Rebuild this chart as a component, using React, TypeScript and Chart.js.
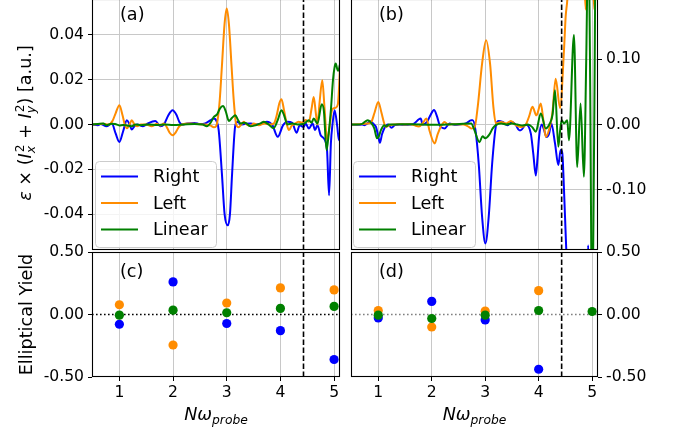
import React, { useEffect, useRef } from "react";
import { Chart, registerables } from "chart.js";
Chart.register(...registerables);

// ---------------- data ----------------
const SERIES = ["Right", "Left", "Linear"];
const COLORS = ["#0000ff", "#ff8c00", "#008000"];

const X_TICKS = [1, 2, 3, 4, 5];
const X_RANGE = [0.49, 5.11];
const CUTOFF_X = 4.43;

const A_Y_TICKS = [-0.04, -0.02, 0, 0.02, 0.04];
const A_Y_RANGE = [-0.056, 0.056];
const B_Y_TICKS = [-0.1, 0, 0.1];
const B_Y_RANGE = [-0.192, 0.192];
const CD_Y_TICKS = [-0.5, 0, 0.5];
const CD_Y_RANGE = [-0.5, 0.5];

// panel (a)
const A_RIGHT_X = [0.49, 0.6, 0.65, 0.76, 0.86, 0.93, 1.0, 1.07, 1.14, 1.19, 1.23, 1.28, 1.33, 1.44, 1.53, 1.67, 1.76, 1.83, 1.91, 1.99, 2.06, 2.12, 2.17, 2.26, 2.4, 2.5, 2.6, 2.7, 2.76, 2.81, 2.85, 2.91, 2.96, 3.02, 3.06, 3.1, 3.16, 3.21, 3.26, 3.35, 3.45, 3.55, 3.65, 3.75, 3.85, 3.95, 4.05, 4.13, 4.22, 4.3, 4.36, 4.43, 4.47, 4.53, 4.6, 4.645, 4.69, 4.75, 4.83, 4.87, 4.906, 4.94, 4.97, 5.01, 5.06, 5.09, 5.125];
const A_RIGHT_Y = [0, -0.0003, 0.0002, -0.0008, 0.0004, -0.004, -0.0078, -0.003, 0.0019, 0, -0.0022, -0.0008, 0, -0.0008, 0.0005, 0.0016, -0.0008, 0, 0.004, 0.0064, 0.0045, 0.001, 0, 0.0004, 0.0007, 0.0002, 0.0005, 0.0019, 0.0027, 0.0015, -0.0025, -0.0219, -0.04, -0.045, -0.04, -0.0219, -0.0003, 0.0012, 0, 0.0003, 0.0004, 0, 0.0003, 0.0012, -0.0003, -0.0055, -0.0003, 0.0012, 0.0007, -0.0037, -0.0003, -0.0011, 0.0004, -0.0018, 0.0004, -0.0025, -0.0003, -0.0048, -0.007, -0.012, -0.0316, -0.0085, 0, 0.0064, -0.0011, -0.007, -0.0011];
const A_LEFT_X = [0.49, 0.7, 0.8, 0.87, 0.93, 1.0, 1.06, 1.1, 1.14, 1.19, 1.23, 1.28, 1.33, 1.4, 1.5, 1.6, 1.7, 1.76, 1.83, 1.89, 1.94, 1.99, 2.05, 2.11, 2.17, 2.3, 2.45, 2.6, 2.7, 2.76, 2.8, 2.83, 2.87, 2.91, 2.96, 3.0, 3.04, 3.09, 3.13, 3.176, 3.22, 3.27, 3.32, 3.37, 3.45, 3.5, 3.6, 3.7, 3.8, 3.88, 3.93, 3.98, 4.02, 4.07, 4.12, 4.16, 4.21, 4.25, 4.34, 4.4, 4.47, 4.53, 4.58, 4.62, 4.66, 4.69, 4.73, 4.78, 4.82, 4.87, 4.91, 4.96, 5.0, 5.03, 5.07, 5.1, 5.125];
const A_LEFT_Y = [0, 0.0003, 0, 0.0015, 0.005, 0.0086, 0.004, 0, -0.0017, 0, 0.0019, 0, -0.0008, 0, 0, -0.0008, 0.0003, -0.0005, 0.0005, -0.0015, -0.0038, -0.0048, -0.0035, -0.001, 0, 0.0004, 0.0002, 0, -0.0005, -0.0012, -0.0008, 0.002, 0.011, 0.026, 0.045, 0.0518, 0.045, 0.026, 0.011, 0, -0.0012, 0, 0.0012, 0, -0.0006, 0.0005, -0.0003, 0.0004, 0, 0.0005, 0.004, 0.0095, 0.0113, 0.006, 0, -0.0025, -0.0005, 0, 0.0012, 0.0008, 0.002, 0.0012, 0.007, 0.0123, 0.005, 0, 0.01, 0.0198, 0.008, -0.007, -0.002, 0.0064, 0.0073, 0.0075, 0.009, 0.02, 0.034];
const A_LINEAR_X = [0.49, 0.6, 0.7, 0.76, 0.85, 0.92, 1.0, 1.07, 1.14, 1.23, 1.3, 1.4, 1.55, 1.7, 1.85, 2.0, 2.2, 2.4, 2.55, 2.63, 2.7, 2.76, 2.82, 2.87, 2.93, 2.98, 3.04, 3.1, 3.16, 3.21, 3.26, 3.31, 3.35, 3.44, 3.54, 3.63, 3.69, 3.78, 3.87, 3.95, 4.02, 4.07, 4.13, 4.22, 4.32, 4.44, 4.53, 4.58, 4.62, 4.69, 4.77, 4.81, 4.86, 4.9, 4.94, 4.98, 5.01, 5.03, 5.07, 5.09, 5.11, 5.125];
const A_LINEAR_Y = [0, 0.0002, 0.0004, -0.0003, 0.0003, 0.0002, -0.0004, -0.0002, -0.0004, -0.0008, 0, -0.0003, 0, -0.0002, 0, -0.0002, 0, 0.0002, 0, -0.0008, 0.0008, 0.0034, 0.0045, 0.007, 0.0082, 0.006, 0.0016, 0.003, 0.0041, 0.002, 0.0004, 0.0008, 0.0007, -0.0008, -0.0003, 0.0005, 0.0012, 0, -0.0017, 0.002, 0.0064, 0.004, 0, 0.0004, 0, 0.0004, 0.0019, 0.0008, 0.0027, 0.0004, 0.009, 0.006, -0.0115, -0.004, 0.0064, 0.02, 0.0257, 0.0272, 0.024, 0.0245, 0.027, 0.027];

// panel (b)
const B_RIGHT_X = [0.49, 0.6, 0.7, 0.74, 0.8, 0.851, 0.92, 0.957, 1.0, 1.03, 1.07, 1.112, 1.18, 1.249, 1.31, 1.4, 1.5, 1.59, 1.67, 1.76, 1.794, 1.83, 1.912, 1.98, 2.042, 2.1, 2.148, 2.241, 2.334, 2.42, 2.52, 2.65, 2.738, 2.767, 2.818, 2.879, 2.942, 3.004, 3.066, 3.13, 3.203, 3.251, 3.326, 3.419, 3.5, 3.575, 3.636, 3.668, 3.761, 3.854, 3.9, 3.947, 3.98, 4.008, 4.059, 4.102, 4.145, 4.195, 4.237, 4.306, 4.368, 4.412, 4.442, 4.474, 4.505, 4.53, 4.6, 4.75, 4.9, 4.926, 4.95, 5.1];
const B_RIGHT_Y = [0, -0.0005, 0, -0.001, 0.002, 0.005, 0, -0.0037, -0.018, -0.028, -0.015, -0.006, 0, -0.005, -0.001, 0, -0.0005, 0, 0.0015, 0.008, 0.009, 0, 0.004, 0.015, 0.022, 0.012, -0.001, -0.006, 0.0015, -0.0005, 0, 0.002, 0.0066, 0.0066, -0.0087, -0.06, -0.141, -0.182, -0.141, -0.06, -0.001, 0.0055, 0.004, -0.001, 0.004, -0.001, -0.0087, -0.0087, 0, -0.014, -0.045, -0.078, -0.05, -0.019, 0, -0.0087, -0.019, -0.014, 0.0015, -0.029, -0.062, -0.039, -0.044, -0.1, -0.167, -0.22, -0.35, -0.35, -0.25, -0.185, -0.25, -0.3];
const B_LEFT_X = [0.49, 0.65, 0.8, 0.87, 0.93, 1.0, 1.06, 1.11, 1.14, 1.18, 1.22, 1.31, 1.4, 1.5, 1.6, 1.67, 1.76, 1.83, 1.9, 1.96, 2.055, 2.11, 2.167, 2.24, 2.3, 2.45, 2.6, 2.7, 2.74, 2.8, 2.86, 2.942, 3.017, 3.091, 3.153, 3.2, 3.3, 3.39, 3.48, 3.575, 3.668, 3.76, 3.82, 3.884, 3.958, 4.04, 4.09, 4.133, 4.208, 4.256, 4.318, 4.4, 4.474, 4.505, 4.535, 4.58, 4.7, 4.84, 4.88, 4.92, 5.0, 5.04, 5.1];
const B_LEFT_Y = [0, 0.0005, 0.0015, 0.004, 0.018, 0.0346, 0.018, 0.002, -0.0037, -0.002, -0.001, 0, 0.0005, 0, 0.0005, -0.001, -0.003, 0.002, 0.009, -0.01, -0.029, -0.015, -0.0037, 0.004, 0, 0.0005, 0, -0.004, -0.006, -0.005, 0.027, 0.093, 0.129, 0.093, 0.027, 0.0015, 0.004, 0.0015, 0.0055, -0.001, -0.0037, 0, 0.012, 0.027, 0.014, 0.032, 0.005, -0.019, -0.0037, 0.017, 0.07, 0.025, 0.114, 0.165, 0.19, 0.26, 0.35, 0.25, 0.176, 0.25, 0.25, 0.176, 0.25];
const B_LINEAR_X = [0.49, 0.6, 0.7, 0.803, 0.85, 0.926, 0.976, 1.01, 1.05, 1.112, 1.15, 1.2, 1.3, 1.6, 2.0, 2.4, 2.738, 2.799, 2.892, 2.95, 3.0, 3.08, 3.14, 3.2, 3.3, 3.4, 3.5, 3.6, 3.7, 3.8, 3.88, 3.947, 4.04, 4.133, 4.208, 4.26, 4.306, 4.368, 4.4, 4.431, 4.474, 4.535, 4.567, 4.66, 4.721, 4.784, 4.846, 4.89, 4.93, 4.96, 5.0, 5.04, 5.07, 5.1];
const B_LINEAR_Y = [0, 0, 0.001, 0.0066, 0.004, -0.006, -0.021, -0.018, -0.0087, -0.001, -0.003, 0, 0, 0.0005, -0.0005, 0.0005, 0.0015, -0.0087, -0.027, -0.018, -0.021, -0.015, -0.006, -0.001, 0.0015, 0, 0.0015, 0, -0.0015, 0, -0.004, -0.011, 0.017, -0.006, 0.0015, 0.015, 0.0525, -0.034, -0.01, 0.0066, 0.0015, 0.0066, -0.024, 0.137, -0.065, 0.032, -0.08, 0.1, 0.3, 0.1, -0.3, 0, 0.3, 0.3];

// panel (c)
const C_X = [1, 2, 3, 4, 5];
const C_RIGHT = [-0.078, 0.261, -0.072, -0.129, -0.36];
const C_LEFT = [0.078, -0.244, 0.092, 0.213, 0.197];
const C_LINEAR = [-0.005, 0.035, 0.014, 0.049, 0.065];

// panel (d)
const D_X = [1, 2, 3, 4];
const D_RIGHT = [-0.027, 0.105, -0.043, -0.438];
const D_LEFT = [0.032, -0.1, 0.027, 0.191];
const D_LINEAR_X = [1, 2, 3, 4, 5];
const D_LINEAR = [-0.005, -0.032, -0.005, 0.032, 0.024];

// ---------------- styling ----------------
const W = 678;
const H = 429;
const OFF = 4;
const FONT = "DejaVu Sans";
const TICK_SIZE = 15.6;
const LABEL_SIZE = 17.6;
const GRID = "#c8c8c8";

type Area = { left: number; top: number; right: number; bottom: number };
type MTok = { t: string; it?: boolean; sub?: string; sup?: string };

const EPS_TITLE: MTok[] = [
  { t: "ε", it: true },
  { t: " × (" },
  { t: "I", it: true, sub: "x", sup: "2" },
  { t: " + " },
  { t: "I", it: true, sub: "y", sup: "2" },
  { t: ") [a.u.]" },
];
const YIELD_TITLE: MTok[] = [{ t: "Elliptical Yield" }];
const X_TITLE: MTok[] = [{ t: "Nω", it: true, sub: "probe" }];

interface PanelDef {
  area: Area;
  yRange: number[];
  yTicks: number[];
  yGrid: boolean;
  yPos: "left" | "right";
  xLabels: boolean;
  datasets: any[];
  label: string;
  labelPos: [number, number];
  legend?: { x: number; y: number; w: number; h: number };
  yTitle?: { toks: MTok[]; x: number; y: number };
  xTitle?: { toks: MTok[]; x: number; y: number };
}

function pts(xs: number[], ys: number[]) {
  return xs.map((x, i) => ({ x, y: ys[i] }));
}

function lineDs(label: string, xs: number[], ys: number[], color: string, order: number) {
  return {
    label,
    data: pts(xs, ys),
    borderColor: color,
    backgroundColor: color,
    borderWidth: 2,
    pointRadius: 0,
    cubicInterpolationMode: "monotone",
    clip: 0,
    order,
  };
}
function dotDs(label: string, xs: number[], ys: number[], color: string, order: number) {
  return {
    label,
    data: pts(xs, ys),
    showLine: false,
    pointRadius: 4.6,
    pointBorderWidth: 0,
    pointBackgroundColor: color,
    borderColor: color,
    backgroundColor: color,
    clip: 0,
    order,
  };
}
function vline(yr: number[]) {
  return {
    label: "cutoff",
    data: [{ x: CUTOFF_X, y: yr[0] }, { x: CUTOFF_X, y: yr[1] }],
    borderColor: "#000",
    borderWidth: 1.6,
    borderDash: [5.5, 2.5],
    pointRadius: 0,
    tension: 0,
    clip: 0,
    order: 0,
  };
}
function hzero(color: string) {
  return {
    label: "zero",
    data: [{ x: X_RANGE[0], y: 0 }, { x: X_RANGE[1], y: 0 }],
    borderColor: color,
    borderWidth: 1.6,
    borderDash: [1.6, 2.4],
    pointRadius: 0,
    tension: 0,
    clip: 0,
    order: 5,
  };
}

const PANELS: PanelDef[] = [
  {
    area: { left: 92, top: -1, right: 340, bottom: 250 },
    yRange: A_Y_RANGE, yTicks: A_Y_TICKS, yGrid: true, yPos: "left", xLabels: false,
    datasets: [
      lineDs(SERIES[0], A_RIGHT_X, A_RIGHT_Y, COLORS[0], 3),
      lineDs(SERIES[1], A_LEFT_X, A_LEFT_Y, COLORS[1], 2),
      lineDs(SERIES[2], A_LINEAR_X, A_LINEAR_Y, COLORS[2], 1),
      vline(A_Y_RANGE),
    ],
    label: "(a)", labelPos: [120, 15],
    legend: { x: 95, y: 161, w: 121, h: 86 },
    yTitle: { toks: EPS_TITLE, x: 31, y: 123 },
  },
  {
    area: { left: 351, top: -1, right: 598, bottom: 250 },
    yRange: B_Y_RANGE, yTicks: B_Y_TICKS, yGrid: true, yPos: "right", xLabels: false,
    datasets: [
      lineDs(SERIES[0], B_RIGHT_X, B_RIGHT_Y, COLORS[0], 3),
      lineDs(SERIES[1], B_LEFT_X, B_LEFT_Y, COLORS[1], 2),
      lineDs(SERIES[2], B_LINEAR_X, B_LINEAR_Y, COLORS[2], 1),
      vline(B_Y_RANGE),
    ],
    label: "(b)", labelPos: [379, 15],
    legend: { x: 353, y: 161, w: 122, h: 86 },
  },
  {
    area: { left: 92, top: 252, right: 340, bottom: 377 },
    yRange: CD_Y_RANGE, yTicks: CD_Y_TICKS, yGrid: false, yPos: "left", xLabels: true,
    datasets: [
      hzero("#000"),
      dotDs(SERIES[0], C_X, C_RIGHT, COLORS[0], 3),
      dotDs(SERIES[1], C_X, C_LEFT, COLORS[1], 2),
      dotDs(SERIES[2], C_X, C_LINEAR, COLORS[2], 1),
      vline(CD_Y_RANGE),
    ],
    label: "(c)", labelPos: [120, 272],
    yTitle: { toks: YIELD_TITLE, x: 31.5, y: 314.5 },
    xTitle: { toks: X_TITLE, x: 216, y: 420 },
  },
  {
    area: { left: 351, top: 252, right: 598, bottom: 377 },
    yRange: CD_Y_RANGE, yTicks: CD_Y_TICKS, yGrid: false, yPos: "right", xLabels: true,
    datasets: [
      hzero("#808080"),
      dotDs(SERIES[0], D_X, D_RIGHT, COLORS[0], 3),
      dotDs(SERIES[1], D_X, D_LEFT, COLORS[1], 2),
      dotDs(SERIES[2], D_LINEAR_X, D_LINEAR, COLORS[2], 1),
      vline(CD_Y_RANGE),
    ],
    label: "(d)", labelPos: [379, 272],
    xTitle: { toks: X_TITLE, x: 474.5, y: 420 },
  },
];

// ---------------- text helpers ----------------
function fnt(it: boolean | undefined, size: number) {
  return `${it ? "italic " : ""}${size}px "${FONT}"`;
}
function mathWidth(ctx: CanvasRenderingContext2D, toks: MTok[], size: number) {
  let w = 0;
  for (const tk of toks) {
    ctx.font = fnt(tk.it, size);
    w += ctx.measureText(tk.t).width;
    const s = size * 0.7;
    let sw = 0;
    if (tk.sup) { ctx.font = fnt(false, s); sw = Math.max(sw, ctx.measureText(tk.sup).width + 1); }
    if (tk.sub) { ctx.font = fnt(true, s); sw = Math.max(sw, ctx.measureText(tk.sub).width); }
    w += sw;
  }
  return w;
}
function drawMath(ctx: CanvasRenderingContext2D, toks: MTok[], size: number, x0: number, base: number) {
  let x = x0;
  ctx.textBaseline = "alphabetic";
  ctx.textAlign = "left";
  for (const tk of toks) {
    ctx.font = fnt(tk.it, size);
    ctx.fillText(tk.t, x, base);
    x += ctx.measureText(tk.t).width;
    const s = size * 0.7;
    let sw = 0;
    if (tk.sup) {
      ctx.font = fnt(false, s);
      ctx.fillText(tk.sup, x + 1, base - size * 0.42);
      sw = Math.max(sw, ctx.measureText(tk.sup).width + 1);
    }
    if (tk.sub) {
      ctx.font = fnt(true, s);
      ctx.fillText(tk.sub, x, base + size * 0.2);
      sw = Math.max(sw, ctx.measureText(tk.sub).width);
    }
    x += sw;
  }
}

function decoPlugin(p: PanelDef) {
  return {
    id: "deco",
    afterDatasetsDraw(chart: any) {
      const { ctx, chartArea: a } = chart;
      ctx.save();
      ctx.strokeStyle = "#000";
      ctx.lineWidth = 1.1;
      ctx.strokeRect(a.left + 0.5, a.top + 0.5, a.right - a.left - 1, a.bottom - a.top - 1);
      ctx.restore();
    },
    afterDraw(chart: any) {
      const ctx: CanvasRenderingContext2D = chart.ctx;
      ctx.save();
      ctx.fillStyle = "#000";
      // panel label
      ctx.font = fnt(false, LABEL_SIZE);
      ctx.textBaseline = "middle";
      ctx.textAlign = "left";
      ctx.fillText(p.label, p.labelPos[0], p.labelPos[1] + OFF);
      // legend
      if (p.legend) {
        const L = p.legend;
        const y0 = L.y + OFF;
        ctx.beginPath();
        (ctx as any).roundRect(L.x + 0.5, y0 + 0.5, L.w, L.h, 4);
        ctx.fillStyle = "rgba(255,255,255,0.8)";
        ctx.fill();
        ctx.strokeStyle = "#cccccc";
        ctx.lineWidth = 1;
        ctx.stroke();
        const rows = [15.5, 42, 68.5];
        SERIES.forEach((name, i) => {
          const ry = y0 + rows[i];
          ctx.beginPath();
          ctx.moveTo(L.x + 6, ry);
          ctx.lineTo(L.x + 43, ry);
          ctx.strokeStyle = COLORS[i];
          ctx.lineWidth = 2;
          ctx.stroke();
          ctx.fillStyle = "#000";
          ctx.font = fnt(false, LABEL_SIZE);
          ctx.textBaseline = "middle";
          ctx.textAlign = "left";
          ctx.fillText(name, L.x + 58, ry + 1);
        });
      }
      ctx.fillStyle = "#000";
      if (p.yTitle) {
        const t = p.yTitle;
        ctx.save();
        ctx.translate(t.x, t.y + OFF);
        ctx.rotate(-Math.PI / 2);
        const w = mathWidth(ctx, t.toks, LABEL_SIZE);
        drawMath(ctx, t.toks, LABEL_SIZE, -w / 2, 0);
        ctx.restore();
      }
      if (p.xTitle) {
        const t = p.xTitle;
        const w = mathWidth(ctx, t.toks, LABEL_SIZE);
        drawMath(ctx, t.toks, LABEL_SIZE, t.x - w / 2, t.y + OFF);
      }
      ctx.restore();
    },
  };
}

function zeroPad(s: any) {
  s.paddingTop = 0;
  s.paddingBottom = 0;
  s.paddingLeft = 0;
  s.paddingRight = 0;
}

function buildConfig(p: PanelDef): any {
  const YW = p.yPos === "left" ? 80 : 60;
  const XH = p.xLabels ? 30 : 0;
  const a = p.area;
  const padding = {
    left: p.yPos === "left" ? a.left - YW : a.left,
    right: p.yPos === "left" ? W - a.right : W - a.right - YW,
    top: a.top + OFF,
    bottom: H - a.bottom - XH,
  };
  return {
    type: "line",
    data: { datasets: p.datasets },
    options: {
      animation: false,
      responsive: false,
      events: [],
      layout: { padding },
      plugins: { legend: { display: false }, tooltip: { enabled: false } },
      scales: {
        x: {
          type: "linear",
          min: X_RANGE[0],
          max: X_RANGE[1],
          afterBuildTicks: (s: any) => { s.ticks = X_TICKS.map((v) => ({ value: v })); },
          afterFit: (s: any) => { s.height = XH; zeroPad(s); },
          ticks: {
            display: p.xLabels,
            autoSkip: false,
            maxRotation: 0,
            padding: 3,
            color: "#000",
            font: { family: FONT, size: TICK_SIZE },
            callback: (v: number) => String(v),
          },
          grid: {
            color: GRID,
            lineWidth: 1,
            drawTicks: p.xLabels,
            tickLength: 4,
            tickColor: "#000",
            tickWidth: 1,
          },
          border: { display: false },
        },
        y: {
          type: "linear",
          position: p.yPos,
          min: p.yRange[0],
          max: p.yRange[1],
          afterBuildTicks: (s: any) => { s.ticks = p.yTicks.map((v) => ({ value: v })); },
          afterFit: (s: any) => { s.width = YW; zeroPad(s); },
          ticks: {
            autoSkip: false,
            padding: 4,
            color: "#000",
            font: { family: FONT, size: TICK_SIZE },
            callback: (v: number) => v.toFixed(2),
          },
          grid: {
            color: GRID,
            lineWidth: 1,
            drawOnChartArea: p.yGrid,
            drawTicks: true,
            tickLength: 4,
            tickColor: "#000",
            tickWidth: 1,
          },
          border: { display: false },
        },
      },
    },
    plugins: [decoPlugin(p)],
  };
}

export default function App() {
  const boxRef = useRef<HTMLDivElement>(null);
  useEffect(() => {
    const box = boxRef.current;
    if (!box) return;
    const canvases = Array.from(box.querySelectorAll("canvas"));
    const charts = PANELS.map((p, i) => new Chart(canvases[i] as HTMLCanvasElement, buildConfig(p)));
    return () => charts.forEach((c) => c.destroy());
  }, []);
  return (
    <div
      ref={boxRef}
      style={{ position: "fixed", left: 0, top: 0, width: W, height: H, overflow: "hidden", background: "#fff" }}
    >
      {PANELS.map((p, i) => (
        <canvas
          key={i}
          width={W}
          height={H + OFF}
          style={{ position: "absolute", left: 0, top: -OFF, width: W, height: H + OFF }}
        />
      ))}
    </div>
  );
}
